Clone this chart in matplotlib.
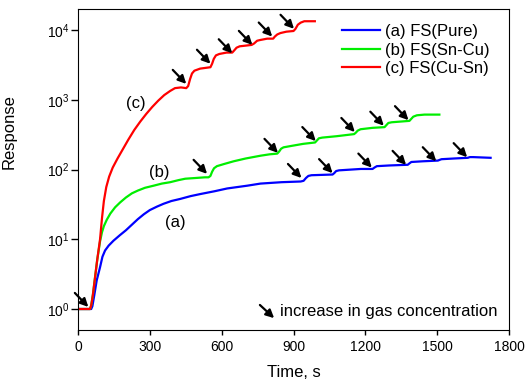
import numpy as np
import matplotlib.pyplot as plt
from matplotlib.ticker import FixedLocator, NullLocator, LogFormatterSciNotation

plt.rcParams['font.family'] = ['Liberation Sans', 'DejaVu Sans']
plt.rcParams['mathtext.fontset'] = 'custom'
plt.rcParams['mathtext.rm'] = 'Liberation Sans'

# response curves: time in s, log10(response)
t_pure = [0, 55, 60, 68, 78, 92, 102, 113, 128, 148, 175, 200, 225, 250, 275, 300,
          330, 357, 390, 427, 470, 511, 570, 623, 707, 762, 850, 930, 942, 952, 962,
          975, 1063, 1070, 1078, 1090, 1181, 1230, 1238, 1248, 1300, 1377, 1384,
          1392, 1440, 1503, 1510, 1518, 1570, 1628, 1636, 1650, 1723]
log_pure = [0, 0, 0.04, 0.2, 0.41, 0.60, 0.75, 0.84, 0.91, 0.98, 1.06, 1.13, 1.21,
            1.29, 1.36, 1.42, 1.47, 1.51, 1.55, 1.58, 1.62, 1.65, 1.69, 1.73, 1.77,
            1.80, 1.82, 1.83, 1.84, 1.88, 1.91, 1.92, 1.93, 1.95, 1.98, 1.99, 2.01,
            2.01, 2.03, 2.05, 2.06, 2.07, 2.09, 2.11, 2.12, 2.13, 2.14, 2.15, 2.16,
            2.17, 2.18, 2.18, 2.17]

t_sncu = [0, 50, 55, 62, 71, 80, 92, 100, 108, 120, 135, 155, 176, 200, 225, 250,
          280, 316, 350, 385, 420, 448, 490, 530, 545, 553, 560, 568, 580, 609, 650,
          700, 762, 800, 832, 840, 848, 858, 890, 940, 990, 998, 1006, 1020, 1080,
          1153, 1160, 1168, 1180, 1230, 1280, 1288, 1296, 1310, 1384, 1392, 1400,
          1415, 1447, 1509]
log_sncu = [0, 0, 0.05, 0.2, 0.45, 0.7, 0.97, 1.1, 1.19, 1.28, 1.37, 1.46, 1.53,
            1.60, 1.66, 1.70, 1.74, 1.77, 1.80, 1.82, 1.85, 1.87, 1.88, 1.89, 1.89,
            1.91, 1.97, 2.02, 2.05, 2.08, 2.12, 2.16, 2.20, 2.22, 2.23, 2.26, 2.30,
            2.32, 2.34, 2.37, 2.39, 2.42, 2.45, 2.46, 2.48, 2.51, 2.53, 2.56, 2.58,
            2.60, 2.61, 2.64, 2.67, 2.68, 2.70, 2.73, 2.76, 2.78, 2.79, 2.79]

t_cusn = [0, 50, 55, 62, 71, 80, 92, 100, 108, 118, 130, 145, 165, 185, 210, 235,
          260, 285, 310, 335, 360, 385, 405, 430, 452, 460, 468, 476, 486, 510, 553,
          560, 567, 576, 590, 620, 644, 652, 662, 675, 700, 725, 735, 748, 760, 790,
          815, 822, 832, 845, 870, 900, 908, 918, 930, 945, 989]
log_cusn = [0, 0, 0.05, 0.2, 0.45, 0.7, 1.0, 1.3, 1.55, 1.75, 1.90, 2.03, 2.16,
            2.28, 2.43, 2.57, 2.69, 2.80, 2.90, 2.99, 3.07, 3.13, 3.17, 3.18, 3.17,
            3.20, 3.30, 3.38, 3.42, 3.45, 3.47, 3.52, 3.59, 3.64, 3.66, 3.68, 3.68,
            3.71, 3.75, 3.77, 3.78, 3.79, 3.81, 3.85, 3.86, 3.88, 3.88, 3.91, 3.94,
            3.96, 3.98, 3.99, 4.02, 4.08, 4.11, 4.13, 4.13]

# arrow tips: time in s, response
arrow_t = [43, 452, 553, 644, 728, 811, 902,
           539, 835, 993, 1156, 1277, 1380,
           933, 1063, 1227, 1370, 1496, 1625]
arrow_r = [1.07, 1700, 3310, 4680, 6170, 8130, 10500,
           87, 174, 257, 347, 427, 513,
           75.9, 89.1, 107, 117, 132, 151]

labels = ['(a) FS(Pure)', '(b) FS(Sn-Cu)', '(c) FS(Cu-Sn)']
colors = ['#0000ff', '#00ee00', '#ff0000']

ARROW = dict(arrowstyle='-|>', color='black', lw=1.6, mutation_scale=12,
             shrinkA=0, shrinkB=0)


def draw():
    fig = plt.figure(figsize=(5.25, 3.85), dpi=100)
    ax = fig.add_axes([0.1486, 0.1429, 0.8210, 0.8329])

    series = [(t_pure, log_pure), (t_sncu, log_sncu), (t_cusn, log_cusn)]
    for (t, lg), lab, c in zip(series, labels, colors):
        ax.plot(t, 10 ** np.array(lg), color=c, lw=1.6, label=lab)

    for t, r in zip(arrow_t, arrow_r):
        ax.annotate('', xy=(t, r), xytext=(-9.7, 10.1), textcoords='offset points',
                    arrowprops=ARROW)

    ax.text(406, 17.6, '(a)', fontsize=12, ha='center', va='center')
    ax.text(340, 91, '(b)', fontsize=12, ha='center', va='center')
    ax.text(243, 890, '(c)', fontsize=12, ha='center', va='center')

    ax.annotate('', xy=(0.455, 0.037), xytext=(0.422, 0.078),
                xycoords='axes fraction', arrowprops=ARROW)
    ax.text(0.469, 0.057, 'increase in gas concentration', fontsize=12,
            transform=ax.transAxes, ha='left', va='center')

    ax.set_yscale('log')
    ax.set_xlim(0, 1800)
    ax.set_ylim(0.5, 2e4)
    ax.set_xticks(np.arange(0, 1801, 300))
    ax.yaxis.set_major_locator(FixedLocator([1, 10, 100, 1000, 10000]))
    ax.yaxis.set_major_formatter(LogFormatterSciNotation())
    ax.yaxis.set_minor_locator(NullLocator())
    ax.tick_params(axis='both', direction='out', labelsize=10, width=1)
    ax.tick_params(axis='y', length=5, pad=1)
    ax.tick_params(axis='x', length=3.5)

    ax.set_xlabel('Time, s', fontsize=12, labelpad=8)
    ax.set_ylabel('Response', fontsize=12)
    ax.yaxis.set_label_coords(-0.142, 0.62)

    ax.legend(loc='upper right', frameon=False, fontsize=12, handlelength=2.3,
              handletextpad=0.3, labelspacing=0.2, bbox_to_anchor=(0.99, 1.0))

    fig.savefig('out.png', dpi=100)


draw()
